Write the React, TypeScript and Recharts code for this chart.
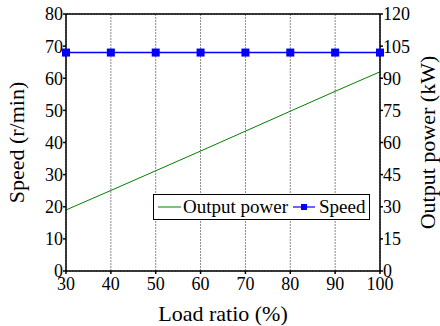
import { LineChart, Line, CartesianGrid, XAxis, YAxis, ReferenceLine } from "recharts";

const loadRatio = [30, 40, 50, 60, 70, 80, 90, 100];
const speed = [68, 68, 68, 68, 68, 68, 68, 68];
const outputPower = [28.5, 37.6, 46.8, 56, 65.3, 74.6, 83.9, 93];

const xTicks = [30, 40, 50, 60, 70, 80, 90, 100];
const speedTicks = [0, 10, 20, 30, 40, 50, 60, 70, 80];
const powerTicks = [0, 15, 30, 45, 60, 75, 90, 105, 120];

const data = loadRatio.map((x, i) => ({ x, speed: speed[i], power: outputPower[i] }));

const font = "Liberation Serif";

const Square = (props: any) => {
  const { cx, cy } = props;
  if (cx == null || cy == null) return null;
  return <rect x={cx - 4} y={cy - 4} width={8} height={8} fill="#0000ff" />;
};

// legend drawn as an overlay so it takes no room from the plot
const LegendBox = () => (
  <div
    style={{
      position: "absolute",
      left: 153,
      top: 194,
      width: 217,
      height: 26,
      border: "1.5px solid #000",
      background: "#fff",
      display: "flex",
      alignItems: "center",
      padding: "0 2px",
      fontFamily: font,
      fontSize: 19,
      color: "#000",
      boxSizing: "border-box",
      whiteSpace: "nowrap",
    }}
  >
    <svg width={26} height={10}>
      <line x1={2} y1={5} x2={25} y2={5} stroke="#008000" strokeWidth={1} />
    </svg>
    <span style={{ marginLeft: 1 }}>Output power</span>
    <svg width={26} height={10} style={{ marginLeft: 4 }}>
      <line x1={1} y1={5} x2={23} y2={5} stroke="#0000ff" strokeWidth={1.2} />
      <rect x={9} y={2} width={6} height={6} fill="#0000ff" />
    </svg>
    <span style={{ marginLeft: 1 }}>Speed</span>
  </div>
);

export default function App() {
  const tick = { fontFamily: font, fontSize: 18, fill: "#000" };
  const labelStyle = { fontFamily: font, fontSize: 22, fill: "#000", textAnchor: "middle" as const };
  return (
    <div style={{ position: "absolute", left: 0, top: 0, width: 440, height: 326, fontFamily: font }}>
      <LineChart width={440} height={326} data={data} margin={{ top: 14, right: 0, bottom: 0, left: 0 }}>
        <CartesianGrid stroke="#888" strokeDasharray="2 1" />
        <XAxis
          dataKey="x"
          type="number"
          domain={[30, 100]}
          ticks={xTicks}
          height={55}
          stroke="#000"
          strokeWidth={1.5}
          tickSize={3}
          tick={tick}
          tickMargin={3}
          label={{ value: "Load ratio (%)", position: "insideBottom", offset: 5, style: labelStyle }}
        />
        <YAxis
          yAxisId="left"
          domain={[0, 80]}
          ticks={speedTicks}
          width={66}
          stroke="#000"
          strokeWidth={1.5}
          tickSize={3}
          tick={tick}
          tickMargin={0}
          label={{ value: "Speed (r/min)", angle: -90, position: "insideLeft", offset: 16, style: labelStyle }}
        />
        <YAxis
          yAxisId="right"
          orientation="right"
          domain={[0, 120]}
          ticks={powerTicks}
          width={60}
          stroke="#000"
          strokeWidth={1.5}
          tickSize={3}
          tick={tick}
          tickMargin={0}
          label={{ value: "Output power (kW)", angle: -90, position: "insideRight", offset: 13, style: labelStyle }}
        />
        <ReferenceLine yAxisId="left" y={80} stroke="#000" strokeWidth={1.5} />
        <Line
          yAxisId="right"
          dataKey="power"
          stroke="#008000"
          strokeWidth={1}
          dot={false}
          isAnimationActive={false}
        />
        <Line
          yAxisId="left"
          dataKey="speed"
          stroke="#0000ff"
          strokeWidth={1.5}
          dot={<Square />}
          isAnimationActive={false}
        />
      </LineChart>
      <LegendBox />
    </div>
  );
}
